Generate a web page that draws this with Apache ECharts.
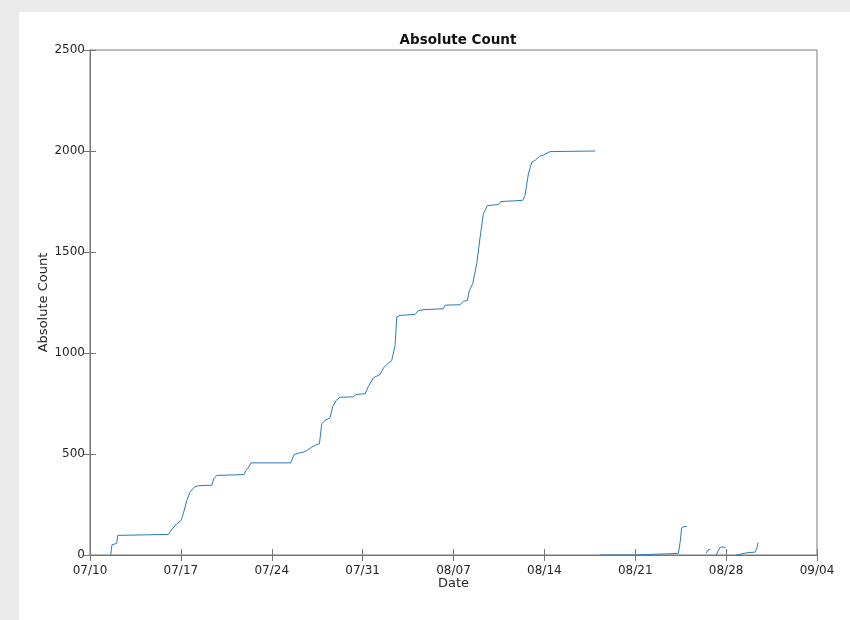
<!DOCTYPE html>
<html>
<head>
<meta charset="utf-8">
<script src="https://cdn.jsdelivr.net/npm/echarts@6/dist/echarts.min.js"></script>
<style>
html,body{margin:0;padding:0;background:#ebebeb;}
#chart{width:850px;height:620px;}
</style>
</head>
<body>
<div id="chart"></div>
<script>
// x tick labels (every 7 days from 07/10)
const tickLabels = ['07/10','07/17','07/24','07/31','08/07','08/14','08/21','08/28','09/04'];
// days since 07/10 (fractional); null in counts marks a break in the line
const days = [
  1.59,1.69,1.75,2.06,2.13,2.23,6.03,6.29,6.68,7.01,7.19,7.45,7.70,8.04,8.34,9.38,9.53,9.76,
  11.86,12.00,12.20,12.40,15.46,15.72,16.05,16.43,16.70,17.08,17.47,17.67,17.85,18.10,18.49,
  18.70,18.95,19.26,20.28,20.49,21.19,21.44,21.83,22.34,22.65,22.98,23.24,23.50,23.63,23.88,
  25.04,25.29,25.81,27.22,27.35,28.51,28.76,29.07,29.22,29.48,29.79,30.05,30.30,30.61,31.46,
  31.64,32.61,33.34,33.51,33.77,34.03,34.28,34.62,34.92,35.44,38.91,
  39.0,
  39.29,42.0,42.03,45.32,45.45,45.58,45.76,45.97,
  46.5,
  47.46,47.61,47.77,
  48.0,
  48.23,48.38,48.54,48.77,48.95,
  49.3,
  49.77,50.39,50.69,51.23,51.35,51.46
];
const counts = [
  0,50,55,58,97,100,102,126,154,171,204,270,311,336,343,345,377,394,
  398,418,432,456,456,497,504,509,517,534,547,550,649,666,679,
  735,765,781,783,795,798,834,877,894,930,950,963,1037,1178,1186,
  1191,1210,1215,1219,1237,1239,1256,1260,1309,1343,1442,1573,1689,1730,1735,
  1750,1753,1756,1780,1887,1945,1953,1973,1980,1997,2000,
  null,
  0,0,8,8,60,135,141,141,
  null,
  8,25,28,
  null,
  0,20,38,40,37,
  null,
  0,8,12,14,30,62
];

const seriesData = days.map((d,i)=>[d, counts[i] === null ? '-' : counts[i]]);

const axisColor = '#767676';
const labelColor = '#262626';
const font = 'DejaVu Sans';

const chart = echarts.init(document.getElementById('chart'), null, {renderer:'canvas'});
chart.setOption({
  backgroundColor:'#ebebeb',
  animation:false,
  graphic:[{type:'rect', z:-10, shape:{x:19,y:12,width:831,height:608}, style:{fill:'#ffffff'}}],
  title:{
    text:'Absolute Count', left:453, top:28, textAlign:'center',
    textStyle:{fontFamily:font, fontSize:13.5, fontWeight:'bold', color:'#111'}
  },
  grid:{left:90, right:33, top:50, bottom:65, show:true, borderColor:axisColor, borderWidth:1, backgroundColor:'#fff'},
  xAxis:[{
    type:'value', min:0, max:56, interval:7,
    name:'Date', nameLocation:'middle', nameGap:22, nameMoveOverlap:false,
    nameTextStyle:{fontFamily:font, fontSize:13, color:labelColor},
    axisLine:{show:true, lineStyle:{color:axisColor}},
    axisTick:{show:true, inside:true, length:6, lineStyle:{color:axisColor}},
    axisLabel:{fontFamily:font, fontSize:12, color:labelColor, margin:10,
      formatter:(v)=>tickLabels[Math.round(v/7)]},
    splitLine:{show:false}
  },{
    type:'value', position:'top', min:0, max:56, interval:7,
    axisLine:{show:true, lineStyle:{color:axisColor}},
    axisTick:{show:true, inside:true, length:6, lineStyle:{color:axisColor}},
    axisLabel:{show:false}, splitLine:{show:false}
  }],
  yAxis:[{
    type:'value', min:0, max:2500, interval:500,
    name:'Absolute Count', nameLocation:'middle', nameGap:40, nameRotate:90, nameMoveOverlap:false,
    nameTextStyle:{fontFamily:font, fontSize:13, color:labelColor},
    axisLine:{show:true, lineStyle:{color:axisColor}},
    axisTick:{show:true, inside:true, length:6, lineStyle:{color:axisColor}},
    axisLabel:{fontFamily:font, fontSize:12, color:labelColor, margin:5,
      formatter:(v)=>String(v)},
    splitLine:{show:false}
  },{
    type:'value', position:'right', min:0, max:2500, interval:500,
    axisLine:{show:true, lineStyle:{color:axisColor}},
    axisTick:{show:true, inside:true, length:6, lineStyle:{color:axisColor}},
    axisLabel:{show:false}, splitLine:{show:false}
  }],
  series:[{
    type:'line', xAxisIndex:0, yAxisIndex:0,
    data:seriesData, showSymbol:false, connectNulls:false,
    lineStyle:{color:'#2b7bb4', width:1},
    itemStyle:{color:'#2b7bb4'}
  }]
});
</script>
</body>
</html>
